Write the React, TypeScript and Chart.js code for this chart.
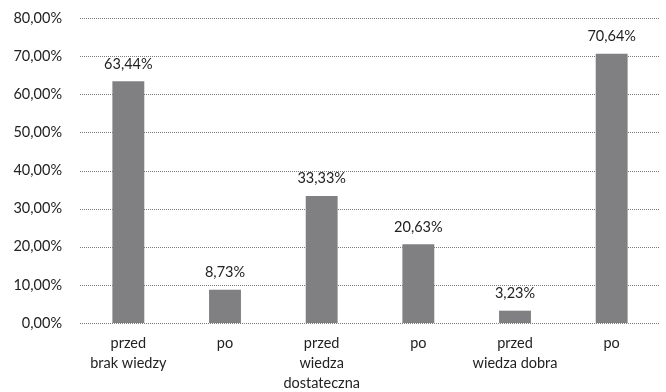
import React, { useEffect, useRef } from "react";
import { Chart, registerables } from "chart.js";

Chart.register(...registerables);

const categories: string[][] = [
  ["przed", "brak wiedzy"],
  ["po"],
  ["przed", "wiedza", "dostateczna"],
  ["po"],
  ["przed", "wiedza dobra"],
  ["po"],
];
const values: number[] = [63.44, 8.73, 33.33, 20.63, 3.23, 70.64];
const yTicks: number[] = [0, 10, 20, 30, 40, 50, 60, 70, 80];

const fmt = (v: number) => v.toFixed(2).replace(".", ",") + "%";
const FONT = "Lato, 'Open Sans', sans-serif";
const FSIZE = 14.5;

const dottedGrid = {
  id: "dottedGrid",
  beforeDatasetsDraw(chart: any) {
    const ctx = chart.ctx;
    const y = chart.scales.y;
    const area = chart.chartArea;
    ctx.save();
    ctx.strokeStyle = "#7a7a7a";
    ctx.lineWidth = 1;
    ctx.setLineDash([1, 1]);
    yTicks.forEach((v) => {
      const py = Math.round(y.getPixelForValue(v)) + 0.5;
      ctx.beginPath();
      ctx.moveTo(area.left, py);
      ctx.lineTo(area.right, py);
      ctx.stroke();
    });
    ctx.restore();
  },
};

const dataLabels = {
  id: "dataLabels",
  afterDatasetsDraw(chart: any) {
    const ctx = chart.ctx;
    const meta = chart.getDatasetMeta(0);
    ctx.save();
    ctx.font = `${FSIZE}px ${FONT}`;
    ctx.fillStyle = "#222";
    ctx.textAlign = "center";
    ctx.textBaseline = "bottom";
    meta.data.forEach((bar: any, i: number) => {
      ctx.fillText(fmt(values[i]), bar.x, bar.y - 10);
    });
    ctx.restore();
  },
};

export default function App() {
  const ref = useRef<HTMLCanvasElement>(null);
  useEffect(() => {
    document.body.style.margin = "0";
    const chart = new Chart(ref.current!, {
      type: "bar",
      data: {
        labels: categories,
        datasets: [
          {
            data: values,
            backgroundColor: "#808083",
            barPercentage: 0.33,
            categoryPercentage: 1,
          },
        ],
      },
      options: {
        animation: false,
        responsive: false,
        maintainAspectRatio: false,
        layout: { padding: { left: 0, right: 6, top: 18, bottom: 0 } },
        plugins: { legend: { display: false }, tooltip: { enabled: false } },
        scales: {
          x: {
            grid: { display: false, drawTicks: false },
            border: { display: false },
            ticks: {
              color: "#222",
              font: { family: FONT, size: FSIZE, lineHeight: 1.35 },
              padding: 11,
              maxRotation: 0,
              autoSkip: false,
            },
            afterFit(scale: any) {
              scale.height = 69;
              scale.paddingLeft = 0;
              scale.paddingRight = 0;
            },
          },
          y: {
            min: 0,
            max: 80,
            afterBuildTicks(scale: any) {
              scale.ticks = yTicks.map((v) => ({ value: v }));
            },
            grid: { display: false, drawTicks: false },
            border: { display: false },
            ticks: {
              color: "#222",
              font: { family: FONT, size: FSIZE },
              padding: 18,
              callback: (v: any) => fmt(Number(v)),
            },
            afterFit(scale: any) {
              scale.width = 80;
              scale.paddingTop = 0;
              scale.paddingBottom = 0;
            },
          },
        },
      },
      plugins: [dottedGrid, dataLabels],
    });
    return () => chart.destroy();
  }, []);
  return (
    <div style={{ width: 666, height: 392 }}>
      <canvas ref={ref} width={666} height={392} style={{ display: "block" }} />
    </div>
  );
}
